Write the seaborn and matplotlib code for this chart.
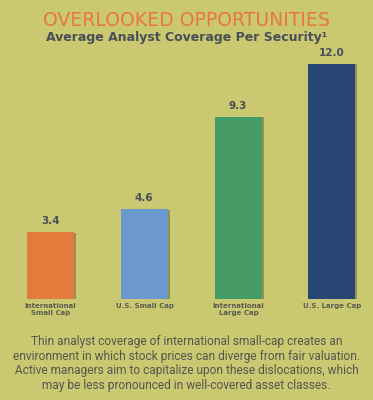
import matplotlib
matplotlib.use("Agg")
import matplotlib.pyplot as plt
import matplotlib.patheffects as pe
import pandas as pd
import seaborn as sns

# dati
categorie = ["International\nSmall Cap", "U.S. Small Cap", "International\nLarge Cap", "U.S. Large Cap"]
copertura = [3.4, 4.6, 9.3, 12.0]
colori = ["#e27b3b", "#6b98cd", "#479b65", "#284674"]

titolo = "OVERLOOKED OPPORTUNITIES"
sottotitolo = "Average Analyst Coverage Per Security\u00b9"
nota = ("Thin analyst coverage of international small-cap creates an\n"
        "environment in which stock prices can diverge from fair valuation.\n"
        "Active managers aim to capitalize upon these dislocations, which\n"
        "may be less pronounced in well-covered asset classes.")

sfondo = "#cac870"
testo_scuro = "#4a4f57"

df = pd.DataFrame({"categoria": categorie, "valore": copertura})

fig = plt.figure(figsize=(3.73, 4.0), dpi=100, facecolor=sfondo)
ax = fig.add_axes([12 / 373, 101 / 400, 348 / 373, 259 / 400])
ax.set_facecolor(sfondo)

sns.barplot(data=df, x="categoria", y="valore", hue="categoria", palette=colori,
            legend=False, width=0.5, ax=ax, saturation=1)

# leggera ombra a destra delle barre
for barra in ax.patches:
    barra.set_path_effects([pe.SimplePatchShadow(offset=(1.5, -0.5), shadow_rgbFace="#6f6d3a", alpha=0.6),
                            pe.Normal()])

for i, v in enumerate(copertura):
    ax.text(i, v + 0.3, f"{v:.1f}", ha="center", va="bottom", fontsize=7.5,
            fontweight="bold", color=testo_scuro)

ax.set_xlim(-0.41, 3.30)
ax.set_ylim(0, 13.21)
ax.axhline(0, color="#e4e3a8", lw=0.8, zorder=0)
for s in ax.spines.values():
    s.set_visible(False)
ax.set_yticks([])
ax.set_xticks([])
ax.set_xlabel("")
ax.set_ylabel("")

for i, c in enumerate(categorie):
    fig.text((50.5 + 94 * i) / 373, 1 - 303 / 400, c, ha="center", va="top",
             fontsize=5.0, fontweight="bold", color="#5b5c50", linespacing=1.2,
             family="DejaVu Sans")

fig.text(0.5, 1 - 20 / 400, titolo, ha="center", va="center", fontsize=13.6,
         color="#e8783f", family="DejaVu Sans")
fig.text(0.5, 1 - 37 / 400, sottotitolo, ha="center", va="center", fontsize=9.0,
         color=testo_scuro, fontweight="bold", family="DejaVu Sans")
fig.text(0.5, 1 - 363.5 / 400, nota, ha="center", va="center", fontsize=8.6,
         color="#55574f", family="Roboto", linespacing=1.15)

fig.savefig("out.png", dpi=100, facecolor=sfondo)
